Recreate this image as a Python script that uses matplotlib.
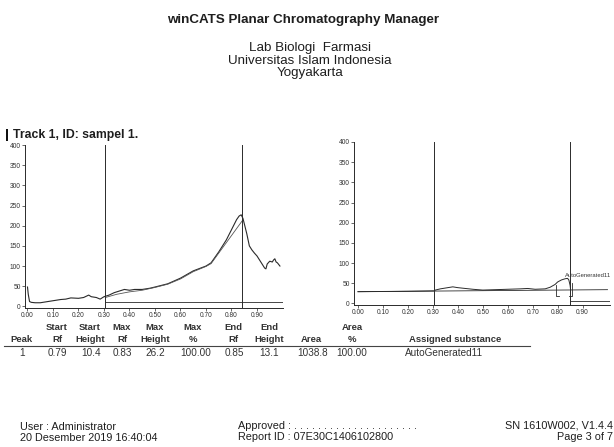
import matplotlib
matplotlib.use("Agg")
import matplotlib.pyplot as plt
from matplotlib.patches import Rectangle

plt.rcParams['font.family'] = ['Liberation Sans', 'DejaVu Sans']

# ---------------- data ----------------
# Left: raw densitogram (Rf, AU)
left_rf = [0.0, 0.003, 0.008, 0.015, 0.03, 0.05, 0.07, 0.10, 0.13, 0.15, 0.17, 0.20, 0.22,
           0.24, 0.25, 0.27, 0.285, 0.30, 0.32, 0.34, 0.36, 0.38, 0.40, 0.42, 0.45, 0.48,
           0.50, 0.55, 0.60, 0.65, 0.70, 0.72, 0.75, 0.78, 0.80, 0.82, 0.83, 0.838, 0.845,
           0.86, 0.87, 0.88, 0.89, 0.90, 0.91, 0.92, 0.93, 0.935, 0.94, 0.95, 0.96, 0.965,
           0.97, 0.975, 0.98, 0.99]
left_au = [48, 30, 12, 10, 9, 9, 11, 14, 17, 18, 21, 20, 22,
           28, 24, 22, 18, 24, 28, 34, 38, 42, 40, 42, 42, 45,
           48, 56, 70, 88, 100, 108, 135, 165, 190, 215, 224, 227, 218,
           180, 150, 140, 132, 125, 115, 105, 95, 93, 105, 112, 110, 115,
           118, 110, 108, 100]
# Left: fitted / second trace
fit_rf = [0.305, 0.35, 0.40, 0.45, 0.50, 0.55, 0.60, 0.65, 0.70, 0.72, 0.842]
fit_au = [22, 30, 36, 40, 47, 55, 68, 86, 99, 106, 212]
left_base_au = 12
left_marks = [0.305, 0.842]

# Right: baseline-corrected trace
right_rf = [0.0, 0.10, 0.20, 0.305, 0.31, 0.33, 0.36, 0.38, 0.40, 0.43, 0.46, 0.50, 0.55,
            0.60, 0.65, 0.68, 0.71, 0.75, 0.77, 0.79, 0.80, 0.815, 0.83, 0.84, 0.845,
            0.85, 0.852]
right_au = [29, 29.5, 30, 31, 33, 36, 39, 41, 39, 37, 35, 33, 34,
            35, 36, 37, 35, 36, 40, 47, 53, 58, 61, 62, 58,
            45, 34]
right_base_rf = [0.0, 1.0]
right_base_au = [29, 34]
right_marks = [0.305, 0.85]
peak_start, peak_end = 0.794, 0.857

x_ticks = [0.0, 0.1, 0.2, 0.3, 0.4, 0.5, 0.6, 0.7, 0.8, 0.9]
x_labels = ['0.00', '0.10', '0.20', '0.30', '0.40', '0.50', '0.60', '0.70', '0.80', '0.90']
y_ticks = [0, 50, 100, 150, 200, 250, 300, 350, 400]

table_headers_1 = ['', 'Start', 'Start', 'Max', 'Max', 'Max', 'End', 'End', '', 'Area', '']
table_headers_2 = ['Peak', 'Rf', 'Height', 'Rf', 'Height', '%', 'Rf', 'Height', 'Area', '%',
                   'Assigned substance']
table_values = ['1', '0.79', '10.4', '0.83', '26.2', '100.00', '0.85', '13.1', '1038.8',
                '100.00', 'AutoGenerated11']

# ---------------- layout helpers ----------------
W, H = 614, 447
fig = plt.figure(figsize=(W / 100, H / 100), dpi=100)
fig.patch.set_facecolor('white')
TXT = '#1e1e1e'
LN = '#2a2a2a'


def fx(x):
    return x / W


def fy(y):
    return 1 - y / H


def add_ax(x0, x1, ytop, ybot, xlim):
    ax = fig.add_axes([fx(x0), fy(ybot), (x1 - x0) / W, (ybot - ytop) / H])
    ax.set_xlim(*xlim)
    ax.set_ylim(-4, 400)
    for s in ['top', 'right']:
        ax.spines[s].set_visible(False)
    for s in ['left', 'bottom']:
        ax.spines[s].set_linewidth(0.7)
        ax.spines[s].set_color(LN)
    ax.set_xticks(x_ticks)
    ax.set_xticklabels(x_labels)
    ax.set_yticks(y_ticks)
    ax.tick_params(length=2, width=0.5, labelsize=4.8, pad=1, colors=LN, labelcolor='#333333')
    ax.patch.set_alpha(0)
    return ax


# ---------------- left chart ----------------
axl = add_ax(25, 283, 145, 308, (-0.0098, 1.002))
axl.plot(left_rf, left_au, color=LN, lw=0.8)
axl.plot(fit_rf, fit_au, color='#555555', lw=0.6)
axl.plot([left_marks[0], 1.002], [left_base_au, left_base_au], color=LN, lw=0.6)
for m in left_marks:
    axl.axvline(m, color=LN, lw=0.7)

# ---------------- right chart ----------------
axr = add_ax(354, 610, 142, 305, (-0.016, 1.01))
axr.plot(right_rf, right_au, color=LN, lw=0.7)
axr.plot(right_base_rf, right_base_au, color=LN, lw=0.6)
axr.plot([right_marks[1], 1.01], [7, 7], color=LN, lw=0.6)
for m in right_marks:
    axr.axvline(m, color=LN, lw=0.7)
axr.plot([peak_start, peak_start, peak_start + 0.01], [46, 18, 18], color=LN, lw=0.6)
axr.plot([peak_end, peak_end, peak_end - 0.01], [50, 18, 18], color=LN, lw=0.6)
axr.text(0.83, 70, table_values[-1], fontsize=4.2, color='#333333', va='center', ha='left',
         clip_on=False)

# ---------------- header texts ----------------
fig.text(fx(303), fy(20), 'winCATS Planar Chromatography Manager', fontsize=9.6,
         fontweight='bold', ha='center', va='center', color=TXT)
fig.text(fx(310), fy(48), 'Lab Biologi  Farmasi', fontsize=9.6, ha='center', va='center', color=TXT)
fig.text(fx(310), fy(61), 'Universitas Islam Indonesia', fontsize=9.6, ha='center', va='center',
         color=TXT)
fig.text(fx(310), fy(73), 'Yogyakarta', fontsize=9.6, ha='center', va='center', color=TXT)

fig.patches.append(Rectangle((fx(5.5), fy(141)), 2.5 / W, 12 / H, transform=fig.transFigure,
                             facecolor='#111111', edgecolor='none'))
fig.text(fx(13), fy(135), 'Track 1, ID: sampel 1.', fontsize=8.8, fontweight='bold',
         ha='left', va='center', color=TXT)

# ---------------- table ----------------
head_x = [21, 57, 90, 122, 155, 193, 233, 269, 311, 352, 455]
val_x = [22, 57, 91, 122, 155, 196, 234, 269, 313, 352, 444]
for hx, vx, h1, h2, v in zip(head_x, val_x, table_headers_1, table_headers_2, table_values):
    if h1:
        fig.text(fx(hx), fy(327), h1, fontsize=6.8, fontweight='bold', ha='center', va='center',
                 color='#333333')
    fig.text(fx(hx), fy(339.5), h2, fontsize=6.8, fontweight='bold', ha='center', va='center',
             color='#333333')
    fig.text(fx(vx), fy(352.5), v, fontsize=7.2, ha='center', va='center', color='#333333')
fig.add_artist(plt.Line2D([fx(4), fx(530)], [fy(345.5), fy(345.5)], transform=fig.transFigure,
                          color='#444444', lw=0.8))

# ---------------- footer ----------------
fig.text(fx(20), fy(427), 'User : Administrator', fontsize=7.8, ha='left', va='center', color=TXT)
fig.text(fx(20), fy(438), '20 Desember 2019 16:40:04', fontsize=7.8, ha='left', va='center',
         color=TXT)
fig.text(fx(238), fy(426), 'Approved : . . . . . . . . . . . . . . . . . . . . .', fontsize=7.8,
         ha='left', va='center', color=TXT)
fig.text(fx(238), fy(437), 'Report ID : 07E30C1406102800', fontsize=7.8, ha='left',
         va='center', color=TXT)
fig.text(fx(613), fy(425), 'SN 1610W002, V1.4.4', fontsize=7.8, ha='right', va='center', color=TXT)
fig.text(fx(613), fy(437), 'Page 3 of 7', fontsize=7.8, ha='right', va='center', color=TXT)

fig.savefig('out.png', dpi=100, facecolor='white')
